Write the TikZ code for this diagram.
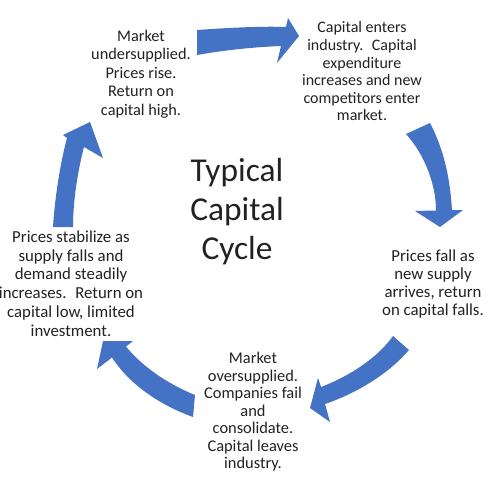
\documentclass[tikz,border=0pt]{standalone}
\usepackage{fontspec}
\setmainfont{Carlito}
\definecolor{arrowblue}{HTML}{4472C4}
\definecolor{txt}{HTML}{222222}
\tikzset{
  blockarrow/.style={fill=arrowblue, draw=none},
  phase/.style={align=center, text=txt, inner sep=0pt},
}
\begin{document}
\begin{tikzpicture}[x=1pt, y=-1pt]
\useasboundingbox (0,0) rectangle (500,485);
\fill[white] (0,0) rectangle (500,485);

% texts
\node[phase, font=\fontsize{16.3pt}{18.5pt}\selectfont] (tl) at (141,74)
  {Market\\undersupplied.\\Prices rise.\\Return on\\capital high.};
\node[phase, font=\fontsize{16pt}{17.6pt}\selectfont] (tr) at (362,71.5)
  {Capital enters\\industry.~ Capital\\expenditure\\increases and new\\competitors enter\\market.};
\node[phase, font=\fontsize{16.8pt}{18.3pt}\selectfont] (r) at (433,284)
  {Prices fall as\\new supply\\arrives, return\\on capital falls.};
\node[phase, font=\fontsize{16.4pt}{17.5pt}\selectfont] (b) at (253,412)
  {Market\\oversupplied.\\Companies fail\\and\\consolidate.\\Capital leaves\\industry.};
\node[phase, font=\fontsize{16.8pt}{18.7pt}\selectfont] (l) at (71,283.5)
  {Prices stabilize as\\supply falls and\\demand steadily\\increases.~ Return on\\capital low, limited\\investment.};
\node[phase, font=\fontsize{33.4pt}{39pt}\selectfont] (title) at (237,212)
  {Typical\\Capital\\Cycle};

% curved block arrows
\fill[blockarrow] (197,30) .. controls (225,28) and (260,26) .. (286,27)
  -- (288,18) -- (299,36) -- (277,63) -- (281,46)
  .. controls (255,47) and (225,50) .. (197,55) -- cycle;
\fill[blockarrow] (406,134) .. controls (425,155) and (436,185) .. (436,210.5)
  -- (415,211) -- (440,227) -- (463,210) -- (452,210)
  .. controls (450,180) and (445,152) .. (430,123) -- cycle;
\fill[blockarrow] (409,350) .. controls (390,372) and (360,392) .. (325,404)
  -- (330,422) -- (310,408) -- (318,378) -- (321,387)
  .. controls (352,375) and (378,357) .. (393,336) -- cycle;
\fill[blockarrow] (193,417) .. controls (160,405) and (130,385) .. (112,357.5)
  -- (97,369) -- (103,341) -- (133,341) -- (126,346.5)
  .. controls (140,364) and (165,383) .. (195,395) -- cycle;
\fill[blockarrow] (53,227) .. controls (55,195) and (61,160) .. (67,138)
  -- (63,135) -- (90,122) -- (103,158) -- (84,147)
  .. controls (78,170) and (73,200) .. (73,227) -- cycle;
\end{tikzpicture}
\end{document}
